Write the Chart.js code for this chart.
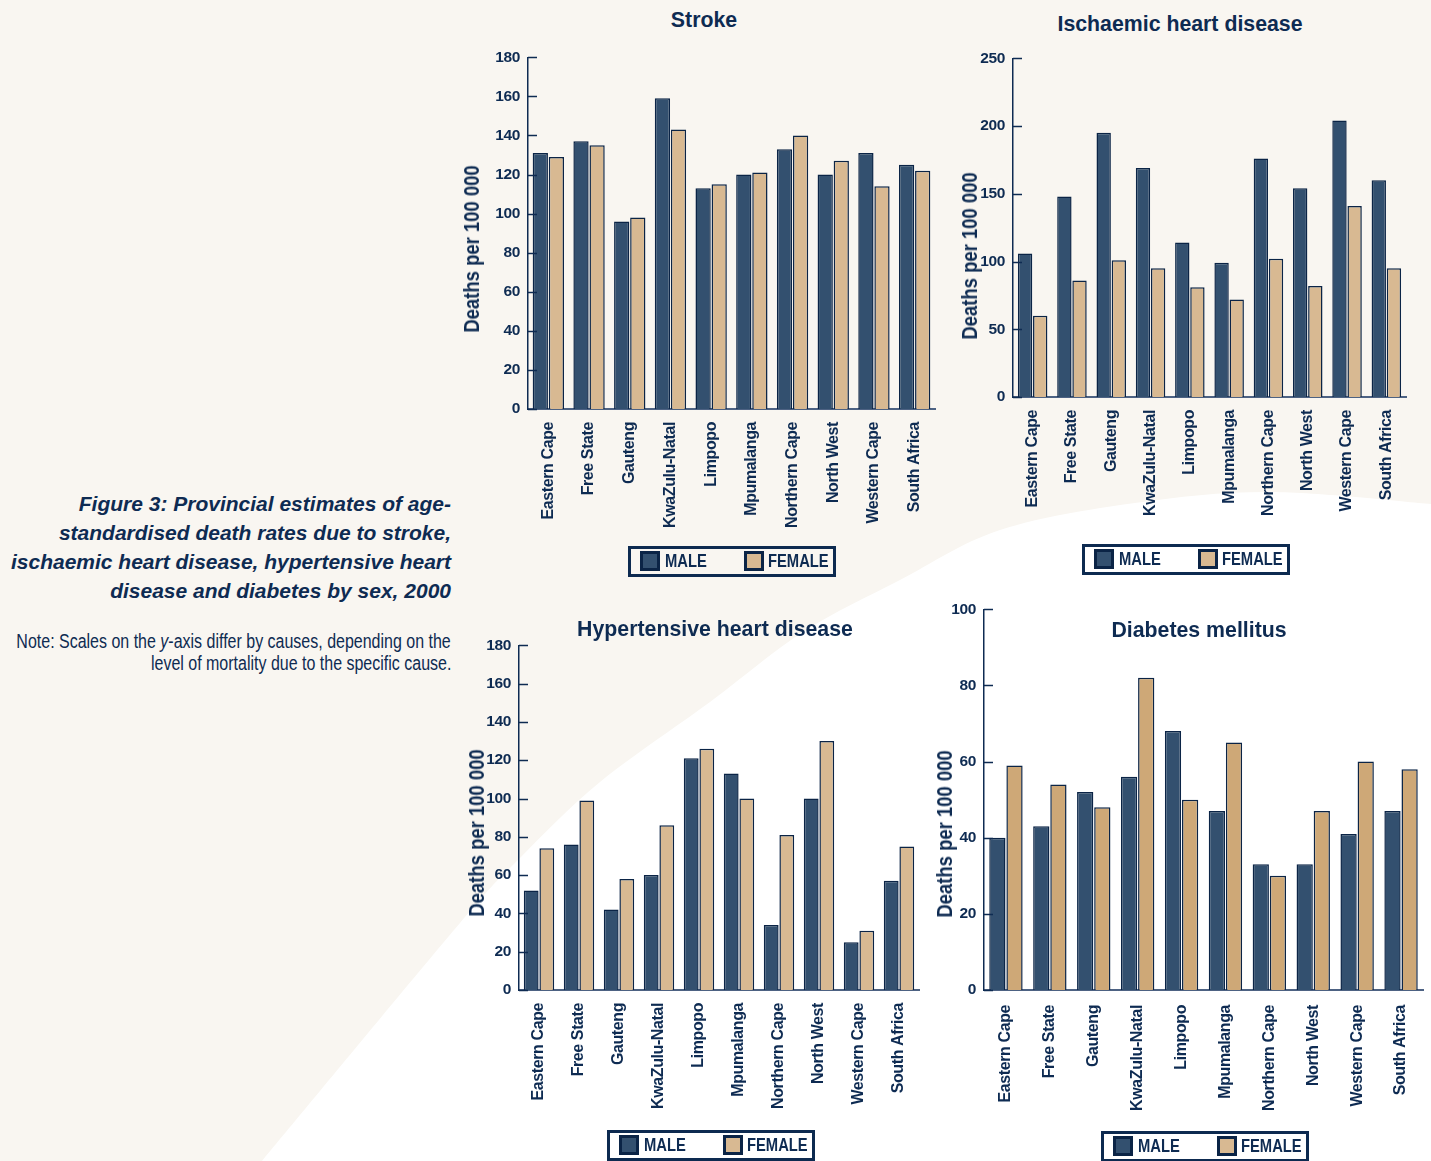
<!DOCTYPE html>
<html>
<head>
<meta charset="utf-8">
<script src="https://cdn.jsdelivr.net/npm/chart.js@4.4.1/dist/chart.umd.min.js"></script>
<style>
html,body{margin:0;padding:0;}
body{width:1431px;height:1161px;position:relative;overflow:hidden;background:#f9f6f1;color:#0e2b52;font-family:'Liberation Sans',Arial,sans-serif;}
#bg{position:absolute;left:0;top:0;}
canvas.c{position:absolute;}
.title{position:absolute;font-weight:bold;font-size:21.3px;font-family:'Liberation Sans',Arial,sans-serif;transform:translate(-50%,-50%);white-space:nowrap;}
.ytitle{position:absolute;font-weight:bold;font-size:22.5px;font-family:'Liberation Sans',Arial,sans-serif;transform:translate(-50%,-50%) rotate(-90deg) scaleX(0.82);white-space:nowrap;}
.legend{position:absolute;box-sizing:border-box;border:3px solid #0d2a50;width:208px;height:31px;}
.legend .sw{position:absolute;top:2px;width:20px;height:20px;box-sizing:border-box;border:3px solid #0b2446;}
.legend .lt{position:absolute;top:0;line-height:25px;font-weight:bold;font-size:18px;font-family:'Liberation Sans',Arial,sans-serif;transform:scaleX(0.82);transform-origin:left center;white-space:nowrap;}
#caption{position:absolute;left:0;top:489px;width:451px;text-align:right;font-weight:bold;font-style:italic;font-size:21px;line-height:29px;}
#note{position:absolute;left:0;top:630px;width:451px;height:44px;font-size:19.5px;line-height:22px;font-family:'Liberation Sans',Arial,sans-serif;}
#note div{position:absolute;right:0;white-space:nowrap;transform:scaleX(0.82);transform-origin:right center;}
</style>
</head>
<body>
<svg id="bg" width="1431" height="1161"><path id="wpath" fill="#ffffff" d=""/></svg>

<div id="caption">Figure 3: Provincial estimates of age-<br>standardised death rates due to stroke,<br>ischaemic heart disease, hypertensive heart<br>disease and diabetes by sex, 2000</div>
<div id="note"><div style="top:0">Note: Scales on the <i>y</i>-axis differ by causes, depending on the</div><div style="top:22px">level of mortality due to the specific cause.</div></div>

<canvas class="c" id="cStroke"></canvas>
<canvas class="c" id="cIhd"></canvas>
<canvas class="c" id="cHhd"></canvas>
<canvas class="c" id="cDm"></canvas>

<div class="title" style="left:704px;top:20px;">Stroke</div>
<div class="title" style="left:1180px;top:24px;">Ischaemic heart disease</div>
<div class="title" style="left:715px;top:629px;">Hypertensive heart disease</div>
<div class="title" style="left:1199px;top:630px;">Diabetes mellitus</div>

<div class="ytitle" style="left:472px;top:249px;">Deaths per 100 000</div>
<div class="ytitle" style="left:970px;top:256px;">Deaths per 100 000</div>
<div class="ytitle" style="left:477px;top:833px;">Deaths per 100 000</div>
<div class="ytitle" style="left:945px;top:834px;">Deaths per 100 000</div>

<div id="legends"></div>

<script>
// ---- Data ----
const provinces = ['Eastern Cape','Free State','Gauteng','KwaZulu-Natal','Limpopo','Mpumalanga','Northern Cape','North West','Western Cape','South Africa'];
const seriesNames = ['MALE','FEMALE'];

const strokeMale   = [131,137,96,159,113,120,133,120,131,125];
const strokeFemale = [129,135,98,143,115,121,140,127,114,122];

const ihdMale   = [106,148,195,169,114,99,176,154,204,160];
const ihdFemale = [60,86,101,95,81,72,102,82,141,95];

const hhdMale   = [52,76,42,60,121,113,34,100,25,57];
const hhdFemale = [74,99,58,86,126,100,81,130,31,75];

const dmMale   = [40,43,52,56,68,47,33,33,41,47];
const dmFemale = [59,54,48,82,50,65,30,47,60,58];

// y-axis scale settings (max, step)
const strokeAxis = [180,20];
const ihdAxis    = [250,50];
const hhdAxis    = [180,20];
const dmAxis     = [100,20];

// ---- Styles ----
const NAVY = '#0e2b52';
const MALE_C = '#33506f';
const FEMALE_C = '#d8b992';
const FEMALE_DM = '#cea877';
const BORDER_C = '#0b2446';
const FONT = "'Liberation Sans',Arial,sans-serif";

// background curve
(function(){
  const pts = [[262,1161],[460,923],[520,858],[600,782],[710,702],[803,632],[900,580],[1000,530],[1135,503],[1270,492],[1431,504]];
  let d = 'M '+pts[0][0]+' '+pts[0][1];
  for (let i=0;i<pts.length-1;i++){
    const p0 = pts[Math.max(0,i-1)], p1 = pts[i], p2 = pts[i+1], p3 = pts[Math.min(pts.length-1,i+2)];
    const c1 = [p1[0]+(p2[0]-p0[0])/6, p1[1]+(p2[1]-p0[1])/6];
    const c2 = [p2[0]-(p3[0]-p1[0])/6, p2[1]-(p3[1]-p1[1])/6];
    d += ' C '+c1[0]+' '+c1[1]+' '+c2[0]+' '+c2[1]+' '+p2[0]+' '+p2[1];
  }
  d += ' L 1431 1161 Z';
  document.getElementById('wpath').setAttribute('d', d);
})();

const condense = {
  id:'condense',
  beforeDraw(chart){ chart.ctx.letterSpacing = '-0.4px'; }
};

const innerTicks = {
  id:'innerTicks',
  afterDraw(chart){
    const y = chart.scales.y, a = chart.chartArea, ctx = chart.ctx;
    ctx.save();
    ctx.strokeStyle = NAVY; ctx.lineWidth = 1.5;
    y.ticks.forEach((t,i)=>{
      const py = Math.round(y.getPixelForTick(i))+0.5;
      ctx.beginPath(); ctx.moveTo(a.left, py); ctx.lineTo(a.left+9, py); ctx.stroke();
    });
    ctx.restore();
  }
};

const YW = 60, XH = 130, PT = 15, PR = 15, PB = 20;

function makeChart(id, plot, male, female, femColor, axis, catPct, labelPad){
  const cv = document.getElementById(id);
  const w = plot.r - plot.l + YW + PR;
  const h = plot.b - plot.t + PT + XH + PB;
  cv.width = w; cv.height = h;
  cv.style.width = w+'px'; cv.style.height = h+'px';
  cv.style.left = (plot.l - YW)+'px';
  cv.style.top = (plot.t - PT)+'px';
  new Chart(cv, {
    type:'bar',
    data:{
      labels: provinces,
      datasets:[
        {label:seriesNames[0], data:male, backgroundColor:MALE_C, borderColor:BORDER_C, borderWidth:1.5, categoryPercentage:catPct, barPercentage:0.95},
        {label:seriesNames[1], data:female, backgroundColor:femColor, borderColor:BORDER_C, borderWidth:1.5, categoryPercentage:catPct, barPercentage:0.95}
      ]
    },
    options:{
      responsive:false, animation:false, devicePixelRatio:1,
      layout:{padding:{left:0, top:PT, right:PR, bottom:PB}},
      plugins:{legend:{display:false}, tooltip:{enabled:false}, title:{display:false}},
      scales:{
        x:{
          grid:{display:false, drawTicks:false},
          border:{display:true, color:'#4d6283', width:2},
          ticks:{minRotation:90, maxRotation:90, autoSkip:false, padding:labelPad, color:NAVY,
                 font:{family:FONT, size:16, weight:'bold'}},
          afterFit:(s)=>{ s.height = XH; }
        },
        y:{
          min:0, max:axis[0],
          grid:{display:false, drawTicks:false},
          border:{display:true, color:NAVY, width:1.5},
          ticks:{stepSize:axis[1], padding:8, color:NAVY, font:{family:FONT, size:15.5, weight:'bold'}},
          afterFit:(s)=>{ s.width = YW; }
        }
      }
    },
    plugins:[condense, innerTicks]
  });
}

makeChart('cStroke', {l:528,t:55,r:935,b:409}, strokeMale, strokeFemale, FEMALE_C, strokeAxis, 0.79, 13);
makeChart('cIhd',    {l:1013,t:56,r:1406,b:397}, ihdMale, ihdFemale, FEMALE_C, ihdAxis, 0.77, 13);
makeChart('cHhd',    {l:519,t:643,r:919,b:990}, hhdMale, hhdFemale, FEMALE_C, hhdAxis, 0.78, 13);
makeChart('cDm',     {l:984,t:607,r:1423,b:990}, dmMale, dmFemale, FEMALE_DM, dmAxis, 0.78, 15);

// legends
function legend(x, y, femColor){
  const box = document.createElement('div');
  box.className = 'legend';
  box.style.left = x+'px'; box.style.top = y+'px';
  box.innerHTML =
    '<div class="sw" style="left:9px;background:'+MALE_C+'"></div>'+
    '<div class="lt" style="left:34px">'+seriesNames[0]+'</div>'+
    '<div class="sw" style="left:113px;background:'+femColor+'"></div>'+
    '<div class="lt" style="left:137px">'+seriesNames[1]+'</div>';
  document.getElementById('legends').appendChild(box);
}
legend(628, 546, FEMALE_C);
legend(1082, 544, FEMALE_C);
legend(607, 1130, FEMALE_C);
legend(1101, 1131, FEMALE_C);
</script>
</body>
</html>
